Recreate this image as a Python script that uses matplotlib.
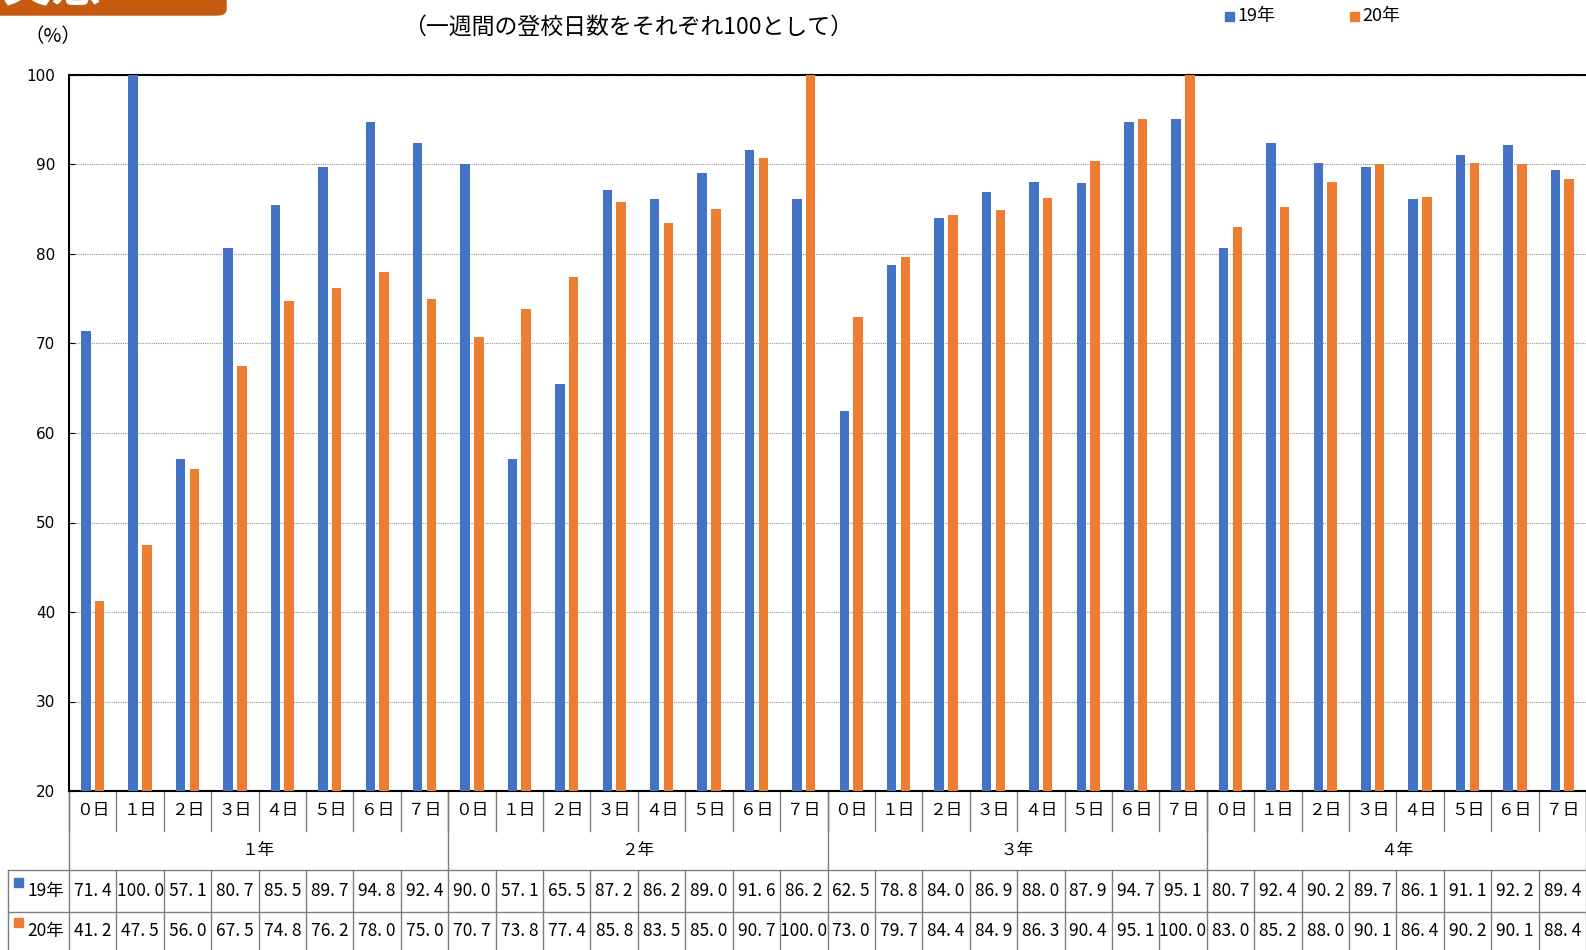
import numpy as np
import matplotlib.pyplot as plt
import matplotlib.transforms as mtransforms
from matplotlib.patches import Rectangle, FancyBboxPatch

plt.rcParams['font.family'] = ['Noto Sans CJK JP', 'DejaVu Sans']

grades = ['１年', '２年', '３年', '４年']
days = ['０日', '１日', '２日', '３日', '４日', '５日', '６日', '７日']
series_names = ['19年', '20年']

v19 = [71.4, 100.0, 57.1, 80.7, 85.5, 89.7, 94.8, 92.4,
       90.0, 57.1, 65.5, 87.2, 86.2, 89.0, 91.6, 86.2,
       62.5, 78.8, 84.0, 86.9, 88.0, 87.9, 94.7, 95.1,
       80.7, 92.4, 90.2, 89.7, 86.1, 91.1, 92.2, 89.4]
v20 = [41.2, 47.5, 56.0, 67.5, 74.8, 76.2, 78.0, 75.0,
       70.7, 73.8, 77.4, 85.8, 83.5, 85.0, 90.7, 100.0,
       73.0, 79.7, 84.4, 84.9, 86.3, 90.4, 95.1, 100.0,
       83.0, 85.2, 88.0, 90.1, 86.4, 90.2, 90.1, 88.4]

c19 = '#4472C4'
c20 = '#ED7D31'
W, H = 1586, 950

fig = plt.figure(figsize=(W / 100, H / 100), dpi=100)
ax = fig.add_axes([69 / W, 1 - 791 / H, (W - 69) / W, (791 - 75) / H])

n = len(v19)
x = np.arange(n)
bw = 0.2
ax.bar(x - 0.145, np.array(v19) - 20, bw, bottom=20, color=c19, zorder=3)
ax.bar(x + 0.145, np.array(v20) - 20, bw, bottom=20, color=c20, zorder=3)

ax.set_xlim(-0.5, n - 0.5)
ax.set_ylim(20, 100)
ax.set_yticks(range(20, 101, 10))
ax.tick_params(axis='y', direction='in', length=4, labelsize=11, pad=10)
ax.set_xticks([])
for t in ax.get_yticklabels():
    t.set_family('DejaVu Sans')
ax.yaxis.grid(True, color='#909090', linestyle=(0, (1, 1)), linewidth=0.8, zorder=0)
for s in ['top', 'left', 'bottom']:
    ax.spines[s].set_color('black')
    ax.spines[s].set_linewidth(1.5)
ax.spines['right'].set_visible(False)

# table below the axes (x in data, y in figure pixels)
tr = mtransforms.blended_transform_factory(ax.transData, fig.transFigure)
def fy(p):
    return 1 - p / H

lc = '#7f7f7f'
edges = np.arange(n + 1) - 0.5
for e in edges:
    ax.plot([e, e], [fy(791), fy(831)], color=lc, lw=1, transform=tr, clip_on=False)
    ax.plot([e, e], [fy(870), fy(952)], color=lc, lw=1, transform=tr, clip_on=False)
for g in range(len(grades) + 1):
    e = g * 8 - 0.5
    ax.plot([e, e], [fy(791), fy(870)], color=lc, lw=1, transform=tr, clip_on=False)

def fmt(v):
    return f'{v:.1f}'.replace('.', '. ')

for i in range(n):
    ax.text(i, fy(811), days[i % 8], transform=tr, ha='center', va='center', fontsize=12)
    ax.text(i, fy(891), fmt(v19[i]), transform=tr, ha='center', va='center', fontsize=12.5)
    ax.text(i, fy(931), fmt(v20[i]), transform=tr, ha='center', va='center', fontsize=12.5)
for g, name in enumerate(grades):
    ax.text(g * 8 + 3.5, fy(851), name, transform=tr, ha='center', va='center', fontsize=12)

for yy in [870, 912]:
    fig.add_artist(plt.Line2D([8 / W, 1], [fy(yy), fy(yy)], color=lc, lw=1))
fig.add_artist(plt.Line2D([8 / W, 8 / W], [fy(870), fy(952)], color=lc, lw=1))

for name, col, yy in [(series_names[0], c19, 891), (series_names[1], c20, 931)]:
    fig.add_artist(Rectangle((14 / W, fy(yy - 4)), 9 / W, 9 / H, color=col))
    fig.text(27 / W, fy(yy), name, ha='left', va='center', fontsize=12.5)

# header texts
fig.text(628 / W, fy(27), '（一週間の登校日数をそれぞれ100として）', ha='center', va='center', fontsize=16.5)
fig.text(53 / W, fy(37), '（%）', ha='center', va='center', fontsize=14)

for name, col, xx in [(series_names[0], c19, 1225), (series_names[1], c20, 1350)]:
    fig.add_artist(Rectangle((xx / W, fy(21)), 9 / W, 9 / H, color=col))
    fig.text((xx + 12) / W, fy(16), name, ha='left', va='center', fontsize=13)

fig.add_artist(FancyBboxPatch((-20 / W, fy(15)), 246 / W, 60 / H,
                              boxstyle='round,pad=0,rounding_size=0.006',
                              color='#C55A11', transform=fig.transFigure, clip_on=False))
fig.text(2 / W, fy(12), '実態', ha='left', va='bottom', fontsize=36,
         color='white', fontweight='bold')

fig.savefig('out.png', dpi=100)
